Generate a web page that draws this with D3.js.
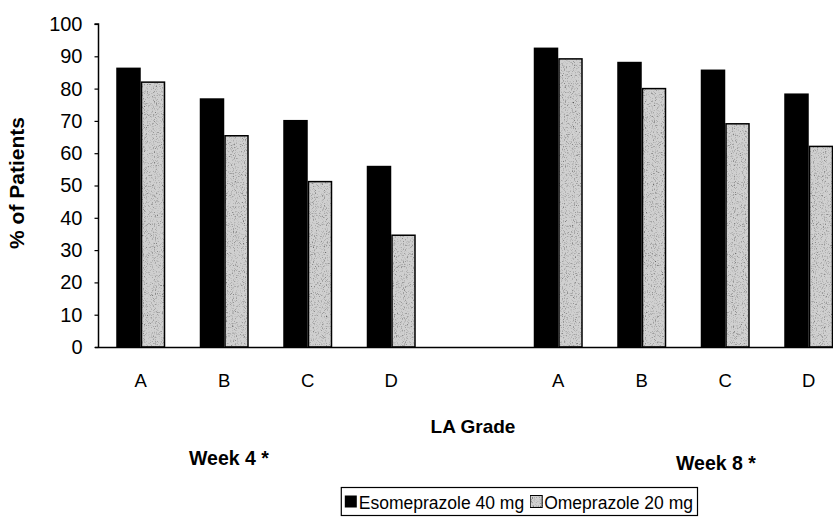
<!DOCTYPE html>
<html><head><meta charset="utf-8">
<script src="https://cdn.jsdelivr.net/npm/d3@7"></script>
<style>body{margin:0;background:#fff}svg{display:block;font-family:Arial,"Liberation Sans",sans-serif}</style>
</head><body><svg id="c" width="833" height="524"></svg>
<script>
const slots = ["W4A","W4B","W4C","W4D","gap","W8A","W8B","W8C","W8D"];
const gradeLabels = ["A","B","C","D","","A","B","C","D"];
const series = ["Esomeprazole 40 mg","Omeprazole 20 mg"];
const esomeprazole = [86.5,77,70.3,56.1,null,92.7,88.3,85.9,78.5];
const omeprazole   = [82,65.4,51.2,34.6,null,89.2,80,69.1,62.1];
const yTicks = [0,10,20,30,40,50,60,70,80,90,100];
const weekLabels = ["Week 4 *","Week 8 *"];

const FONT = "Arial, Liberation Sans, sans-serif";
const svg = d3.select("#c");
const defs = svg.append("defs");
const f = defs.append("filter").attr("id","stip").attr("x",0).attr("y",0).attr("width",1).attr("height",1);
f.append("feTurbulence").attr("type","fractalNoise").attr("baseFrequency",0.9).attr("numOctaves",2).attr("seed",3).attr("result","n");
f.append("feColorMatrix").attr("in","n").attr("type","matrix")
 .attr("values","0 0 0 0 0  0 0 0 0 0  0 0 0 0 0  -2.2 0 0 0 1.05").attr("result","dots");
f.append("feComposite").attr("in","dots").attr("in2","SourceGraphic").attr("operator","in").attr("result","d2");
f.append("feMerge").call(m=>{m.append("feMergeNode").attr("in","SourceGraphic");m.append("feMergeNode").attr("in","d2");});

const y = d3.scaleLinear().domain([0,100]).range([347,24]);
const x0 = d3.scaleBand().domain(slots).range([99,850.5]);
const bw = x0.bandwidth();
const x1 = d3.scaleBand().domain(series).range([bw/2-24.5, bw/2+24.5]);
const color = {"Esomeprazole 40 mg":"#000","Omeprazole 20 mg":"#d0d0d0"};

// bars
const rows = slots.map((s,i)=>({slot:s, vals:[esomeprazole[i],omeprazole[i]]}));
const g = svg.append("g");
rows.forEach(r=>{
  r.vals.forEach((v,j)=>{
    if(v==null) return;
    const sName = series[j];
    const rect = g.append("rect")
      .attr("x", x0(r.slot)+x1(sName)+(j?0.75:0))
      .attr("y", y(v))
      .attr("width", x1.bandwidth()-(j?1.5:0))
      .attr("height", y(0)-y(v))
      .attr("fill", color[sName]);
    if(j){ rect.attr("filter","url(#stip)");
      g.append("rect").attr("x", x0(r.slot)+x1(sName)+0.75).attr("y", y(v))
       .attr("width", x1.bandwidth()-1.5).attr("height", y(0)-y(v))
       .attr("fill","none").attr("stroke","#000").attr("stroke-width",1.5);
    }
  });
});

// y axis
const ya = svg.append("g").attr("transform","translate(98.5,0)")
  .call(d3.axisLeft(y).tickValues(yTicks).tickSize(4).tickPadding(12));
ya.select(".domain").attr("stroke","#000").attr("stroke-width",1.5).attr("d","M-4,"+y(100)+"H0V"+y(0));
ya.selectAll(".tick line").attr("stroke","#000").attr("stroke-width",1.2);
ya.selectAll("text").attr("font-size",20).attr("fill","#000").attr("font-family",FONT);

// x axis
const xa = svg.append("g").attr("transform","translate(0,"+(y(0)+0.5)+")")
  .call(d3.axisBottom(x0).tickSize(0).tickPadding(26).tickFormat((d,i)=>gradeLabels[i]));
xa.select(".domain").attr("stroke","#000").attr("stroke-width",1.5).attr("d","M95,0H833");
xa.selectAll("text").attr("font-size",18.5).attr("fill","#000").attr("font-family",FONT);

// titles
svg.append("text").attr("transform","translate(24,183) rotate(-90)").attr("text-anchor","middle")
  .attr("font-size",21).attr("font-weight","bold").text("% of Patients");
svg.append("text").attr("x",473).attr("y",433).attr("text-anchor","middle")
  .attr("font-size",19).attr("font-weight","bold").text("LA Grade");
svg.append("text").attr("x",229).attr("y",465).attr("text-anchor","middle")
  .attr("font-size",19.5).attr("font-weight","bold").text(weekLabels[0]);
svg.append("text").attr("x",716).attr("y",470).attr("text-anchor","middle")
  .attr("font-size",19.5).attr("font-weight","bold").text(weekLabels[1]);

// legend
const lg = svg.append("g");
const box = lg.append("rect").attr("y",487.5).attr("height",28)
  .attr("fill","#fff").attr("stroke","#000").attr("stroke-width",1.2);
const items = lg.append("g");
let cx = 0;
series.forEach((s,i)=>{
  const sw = items.append("rect").attr("x",cx).attr("y",495.5).attr("width",12).attr("height",12).attr("fill",color[s]);
  if(i){ sw.attr("filter","url(#stip)").attr("stroke","#000").attr("stroke-width",1); }
  const t = items.append("text").attr("x",cx+14).attr("y",508.5).attr("font-size",17.5).text(s);
  cx += 14 + t.node().getComputedTextLength() + 6;
});
const right = 697, contentW = cx - 6;
const left = right - contentW - 8;
items.attr("transform","translate("+(left+4)+",0)");
box.attr("x",left+0.5).attr("width",right-left);
</script></body></html>
